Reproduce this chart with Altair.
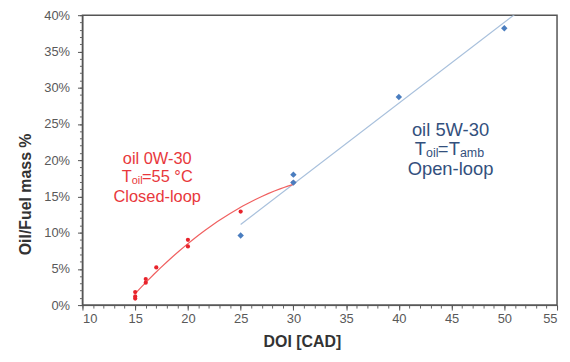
import altair as alt
import pandas as pd

# ---- data ----
red_x = [15, 15, 15, 16, 16, 17, 20, 20, 25, 30]
red_y = [0.018, 0.012, 0.009, 0.036, 0.031, 0.052, 0.090, 0.081, 0.129, 0.169]

blue_x = [25, 30, 30, 40, 50]
blue_y = [0.096, 0.180, 0.169, 0.287, 0.382]

x_major = [10, 15, 20, 25, 30, 35, 40, 45, 50, 55]
x_minor = list(range(10, 56))
y_major = [0, 0.05, 0.10, 0.15, 0.20, 0.25, 0.30, 0.35, 0.40]
y_minor = [i / 100 for i in range(0, 41)]

red_note_x = 17.09
red_note_y = [0.202, 0.176, 0.149]
blue_note_x = 44.9
blue_note_y = [0.241, 0.215, 0.188]

red_df = pd.DataFrame({"x": red_x, "y": red_y})
blue_df = pd.DataFrame({"x": blue_x, "y": blue_y})

RED = "#e8232b"
RED_TXT = "#e8383c"
BLUE = "#4a7dbf"
BLUE_TXT = "#33507d"
BLUE_LINE = "#a8c0dc"
FONT = "Liberation Sans"

xs = alt.Scale(domain=[10, 55], nice=False, zero=False)
ys = alt.Scale(domain=[0, 0.40], nice=False)


def X(axis=None):
    if axis is None:
        return alt.X("x:Q", scale=xs, axis=None)
    return alt.X("x:Q", scale=xs, axis=axis)


def Y(axis=None):
    if axis is None:
        return alt.Y("y:Q", scale=ys, axis=None)
    return alt.Y("y:Q", scale=ys, axis=axis)


# major axes layer
major = alt.Chart(blue_df).mark_point(opacity=0).encode(
    x=X(alt.Axis(values=x_major, title="DOI [CAD]", orient="bottom", tickSize=5,
                 labelFontSize=13, labelColor="#595959", labelPadding=3,
                 titleFontSize=16, titleFontWeight="bold", titleColor="#333333",
                 titleX=221, titlePadding=8, grid=False, domainColor="#555555",
                 tickColor="#555555", labelFont=FONT, titleFont=FONT)),
    y=Y(alt.Axis(values=y_major, format=".0%", title="Oil/Fuel mass %", orient="left",
                 tickSize=5, labelFontSize=13, labelColor="#595959", labelPadding=8,
                 titleFontSize=16, titleFontWeight="bold", titleColor="#333333",
                 titleY=180, titlePadding=10, grid=False, domainColor="#555555",
                 tickColor="#555555", labelFont=FONT, titleFont=FONT)),
)

# minor ticks layer
minor = alt.Chart(blue_df).mark_point(opacity=0).encode(
    x=X(alt.Axis(values=x_minor, labels=False, title=None, orient="bottom", tickSize=3,
                 domain=False, grid=False, tickColor="#666666")),
    y=Y(alt.Axis(values=y_minor, labels=False, title=None, orient="left", tickSize=3,
                 domain=False, grid=False, tickColor="#666666")),
)

blue_fit = alt.Chart(blue_df).transform_regression(
    "x", "y", method="linear", extent=[25, 55]
).mark_line(color=BLUE_LINE, strokeWidth=1.2, clip=True).encode(x=X(), y=Y())

red_fit = alt.Chart(red_df).transform_regression(
    "x", "y", method="poly", order=2, extent=[15, 30]
).mark_line(color="#f06060", strokeWidth=1.2).encode(x=X(), y=Y())

red_pts = alt.Chart(red_df).mark_circle(color=RED, size=18, opacity=1).encode(x=X(), y=Y())
blue_pts = alt.Chart(blue_df).mark_point(
    shape="diamond", filled=True, color=BLUE, size=42, opacity=1
).encode(x=X(), y=Y())


def txt(x, y, text, color, size, dx=0, dy=0, align="center"):
    df = pd.DataFrame({"x": [x], "y": [y], "t": [text]})
    return alt.Chart(df).mark_text(
        color=color, fontSize=size, font=FONT, align=align, baseline="middle",
        dx=dx, dy=dy
    ).encode(x=X(), y=Y(), text="t:N")


notes = [
    txt(red_note_x, red_note_y[0], "oil 0W-30", RED_TXT, 16.5),
    txt(red_note_x, red_note_y[1], "T", RED_TXT, 16.5, dx=-35.8, align="left"),
    txt(red_note_x, red_note_y[1], "oil", RED_TXT, 11, dx=-25.7, dy=3.5, align="left"),
    txt(red_note_x, red_note_y[1], "=55 °C", RED_TXT, 16.5, dx=-15.3, align="left"),
    txt(red_note_x, red_note_y[2], "Closed-loop", RED_TXT, 16.5),
    txt(blue_note_x, blue_note_y[0], "oil 5W-30", BLUE_TXT, 18.5),
    txt(blue_note_x, blue_note_y[1], "T", BLUE_TXT, 18.5, dx=-36, align="left"),
    txt(blue_note_x, blue_note_y[1], "oil", BLUE_TXT, 12.5, dx=-24.7, dy=4, align="left"),
    txt(blue_note_x, blue_note_y[1], "=", BLUE_TXT, 18.5, dx=-12.8, align="left"),
    txt(blue_note_x, blue_note_y[1], "T", BLUE_TXT, 18.5, dx=-1.8, align="left"),
    txt(blue_note_x, blue_note_y[1], "amb", BLUE_TXT, 12.5, dx=9.5, dy=4, align="left"),
    txt(blue_note_x, blue_note_y[2], "Open-loop", BLUE_TXT, 18.5),
]

chart = alt.layer(
    minor, major, blue_fit, red_fit, red_pts, blue_pts, *notes
).resolve_axis(x="independent", y="independent").properties(
    width=478, height=292,
    autosize=alt.AutoSizeParams(type="none"),
    padding={"left": 75, "top": 6, "right": 5, "bottom": 45},
    background="white",
).configure_view(stroke="#555555", strokeWidth=1.5)

chart.save("out.html", embed_options={"renderer": "svg", "actions": False})
